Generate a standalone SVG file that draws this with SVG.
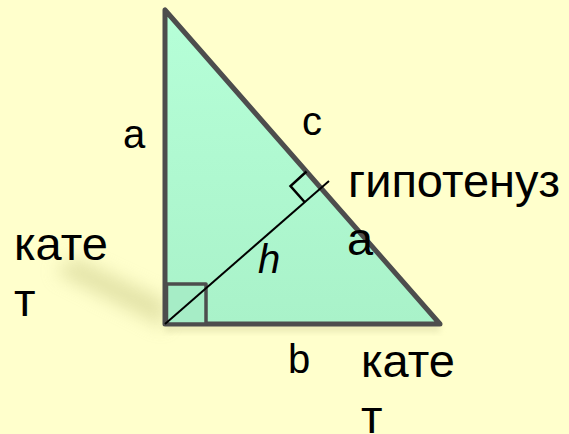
<svg xmlns="http://www.w3.org/2000/svg" width="569" height="434" viewBox="0 0 569 434">
<defs>
<linearGradient id="tri" x1="0" y1="0" x2="0" y2="1">
<stop offset="0" stop-color="#B6FFD8"/>
<stop offset="1" stop-color="#A9F2C9"/>
</linearGradient>
<filter id="blur" x="-50%" y="-50%" width="200%" height="200%"><feGaussianBlur stdDeviation="9"/></filter>
<filter id="blur2" x="-50%" y="-50%" width="200%" height="200%"><feGaussianBlur stdDeviation="3"/></filter>
</defs>
<style>
.t{font-family:"Liberation Sans",Arial,sans-serif;fill:#000;}
.big{font-size:47px;}
.lab{font-size:40px;}
.edge{stroke:#4D4D4D;stroke-linejoin:round;}
</style>
<rect width="569" height="434" fill="#FFFFCC"/>
<g id="shadow">
<polygon points="165,328 165,300 75,258 55,272" fill="#D0D090" opacity="0.6" filter="url(#blur)"/>
<rect x="165" y="324" width="275" height="8" fill="#D6D6A0" opacity="0.5" filter="url(#blur2)"/>
</g>
<g id="triangle">
<polygon points="165,10 165,324 440,324" fill="url(#tri)" class="edge" stroke-width="5"/>
</g>
<g id="right-angle">
<rect x="166.5" y="284" width="39.5" height="40" fill="#A6EDC6" class="edge" stroke-width="3.5"/>
</g>
<g id="connectors">
<line x1="165" y1="324" x2="329" y2="181" stroke="#000" stroke-width="2"/>
<polyline points="306.5,171.5 290.5,186 305,202.5" fill="none" stroke="#000" stroke-width="2.5"/>
</g>
<g id="labels">
<text class="t lab" x="123" y="148">a</text>
<text class="t lab" x="302" y="135">с</text>
<text class="t big" x="348" y="197">гипотенуз</text>
<text class="t big" x="347" y="255">а</text>
<text class="t lab" x="258" y="273" font-style="italic">h</text>
<text class="t big" x="14" y="260">кате</text>
<text class="t big" x="14" y="316">т</text>
<text class="t lab" x="288" y="373">b</text>
<text class="t big" x="361" y="377">кате</text>
<text class="t big" x="361" y="433">т</text>
</g>
</svg>
